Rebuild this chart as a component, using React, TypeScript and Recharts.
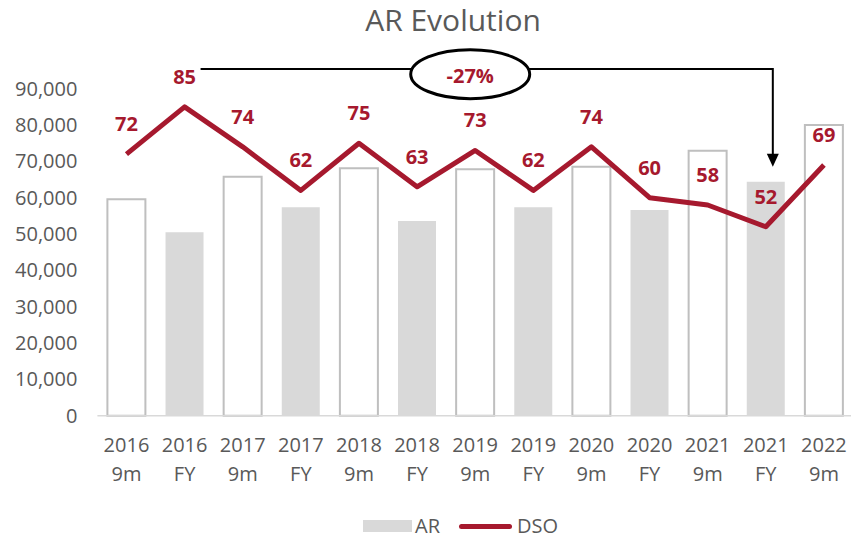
import React from 'react';
import {
  ComposedChart,
  Bar,
  Line,
  XAxis,
  YAxis,
  Cell,
  LabelList,
  Legend,
  ReferenceLine,
  ReferenceDot,
} from 'recharts';

const categories = [
  '2016 9m', '2016 FY', '2017 9m', '2017 FY', '2018 9m', '2018 FY', '2019 9m',
  '2019 FY', '2020 9m', '2020 FY', '2021 9m', '2021 FY', '2022 9m',
];
const arValues = [59600, 50500, 65800, 57400, 68100, 53600, 67800, 57400, 68500, 56600, 72900, 64400, 80000];
const dsoValues = [72, 85, 74, 62, 75, 63, 73, 62, 74, 60, 58, 52, 69];
const yTicks = [0, 10000, 20000, 30000, 40000, 50000, 60000, 70000, 80000, 90000];

const titleText = 'AR Evolution';
const changeLabel = '-27%';
const arrowFrom = '2016 FY';
const arrowTo = '2021 FY';
const arrowLevel = 95400;
const arrowTipLevel = 68500;
const bubbleCategory = '2019 9m';
const bubbleLevel = 94000;

const RED = '#A6192E';
const TEXT = '#595959';
const FY_FILL = '#D9D9D9';
const NINE_STROKE = '#BFBFBF';
const FONT = '"Open Sans", sans-serif';

const data = categories.map((c, i) => ({ cat: c, ar: arValues[i], dso: dsoValues[i] }));

const fmt = (v: number) => v.toLocaleString('en-US');

const XTick = (props: any) => {
  const { x, y, payload } = props;
  const [year, period] = String(payload.value).split(' ');
  return (
    <g>
      <text x={x} y={y + 36} textAnchor="middle" fill={TEXT} fontSize={20} fontFamily={FONT}>{year}</text>
      <text x={x} y={y + 65} textAnchor="middle" fill={TEXT} fontSize={20} fontFamily={FONT}>{period}</text>
    </g>
  );
};

const ArrowShape = (props: any) => {
  const { x1, y1, x2, y2 } = props;
  const sx = x1 + 16;
  const ex = x2 + 7;
  return (
    <g>
      <path d={`M${sx},${y1} H${ex} V${y2 - 12}`} stroke="#000" strokeWidth={2} fill="none" />
      <path d={`M${ex - 6},${y2 - 13} L${ex + 6},${y2 - 13} L${ex},${y2} Z`} fill="#000" />
    </g>
  );
};

const BubbleShape = (props: any) => {
  const { cx, cy } = props;
  return (
    <g>
      <ellipse cx={cx - 5} cy={cy} rx={59.5} ry={24.5} fill="#fff" stroke="#000" strokeWidth={3} />
      <text x={cx - 5} y={cy + 9} textAnchor="middle" fill={RED} fontWeight="bold" fontSize={20} fontFamily={FONT}>
        {changeLabel}
      </text>
    </g>
  );
};

const LegendContent = () => (
  <div
    style={{
      height: 30,
      paddingTop: 6,
      boxSizing: 'border-box',
      display: 'flex',
      alignItems: 'center',
      paddingLeft: 363,
      fontFamily: FONT,
      fontSize: 20,
      color: TEXT,
    }}
  >
    <span style={{ display: 'inline-block', width: 49, height: 12, background: FY_FILL }} />
    <span style={{ marginLeft: 3, lineHeight: '24px' }}>AR</span>
    <span style={{ display: 'inline-block', marginLeft: 19, width: 53, height: 5, borderRadius: 3, background: RED }} />
    <span style={{ marginLeft: 5, lineHeight: '24px' }}>DSO</span>
  </div>
);

export default function App() {
  return (
    <div style={{ position: 'absolute', left: 0, top: 0, width: 851, height: 538, overflow: 'hidden', background: '#fff' }}>
      <div
        style={{
          position: 'absolute',
          left: 0,
          top: 5,
          width: 906,
          textAlign: 'center',
          fontFamily: FONT,
          fontSize: 30,
          lineHeight: '30px',
          color: TEXT,
        }}
      >
        {titleText}
      </div>
      <ComposedChart
        width={853}
        height={538}
        data={data}
        margin={{ top: 88.7, right: 0, bottom: 0, left: 0 }}
      >
        <XAxis
          dataKey="cat"
          xAxisId="x"
          axisLine={{ stroke: FY_FILL, strokeWidth: 1.5 }}
          tickLine={false}
          tickSize={0}
          tickMargin={0}
          height={92.3}
          interval={0}
          tick={<XTick />}
        />
        <YAxis
          yAxisId="left"
          domain={[0, 90000]}
          ticks={yTicks}
          width={97.4}
          axisLine={false}
          tickLine={false}
          tickSize={0}
          tickMargin={20}
          tickFormatter={fmt}
          tick={{ fill: TEXT, fontSize: 20, fontFamily: FONT }}
        />
        <YAxis yAxisId="right" orientation="right" domain={[0, 90]} hide />
        <Legend verticalAlign="bottom" content={<LegendContent />} />
        <Bar dataKey="ar" name="AR" xAxisId="x" yAxisId="left" barSize={38} fill={FY_FILL} isAnimationActive={false}>
          {data.map((d, i) => {
            const nine = d.cat.endsWith('9m');
            return (
              <Cell
                key={i}
                fill={nine ? '#FFFFFF' : FY_FILL}
                stroke={nine ? NINE_STROKE : 'none'}
                strokeWidth={nine ? 2 : 0}
              />
            );
          })}
        </Bar>
        <Line
          dataKey="dso"
          name="DSO"
          xAxisId="x"
          yAxisId="right"
          stroke={RED}
          strokeWidth={5}
          strokeLinejoin="round"
          dot={false}
          activeDot={false}
          isAnimationActive={false}
        >
          <LabelList
            dataKey="dso"
            position="top"
            offset={23}
            fill={RED}
            fontSize={20}
            fontWeight="bold"
            fontFamily={FONT}
          />
        </Line>
        <ReferenceLine
          xAxisId="x"
          yAxisId="left"
          ifOverflow="visible"
          segment={[
            { x: arrowFrom, y: arrowLevel },
            { x: arrowTo, y: arrowTipLevel },
          ]}
          shape={<ArrowShape />}
        />
        <ReferenceDot
          xAxisId="x"
          yAxisId="left"
          x={bubbleCategory}
          y={bubbleLevel}
          ifOverflow="visible"
          r={0}
          shape={<BubbleShape />}
        />
      </ComposedChart>
    </div>
  );
}
